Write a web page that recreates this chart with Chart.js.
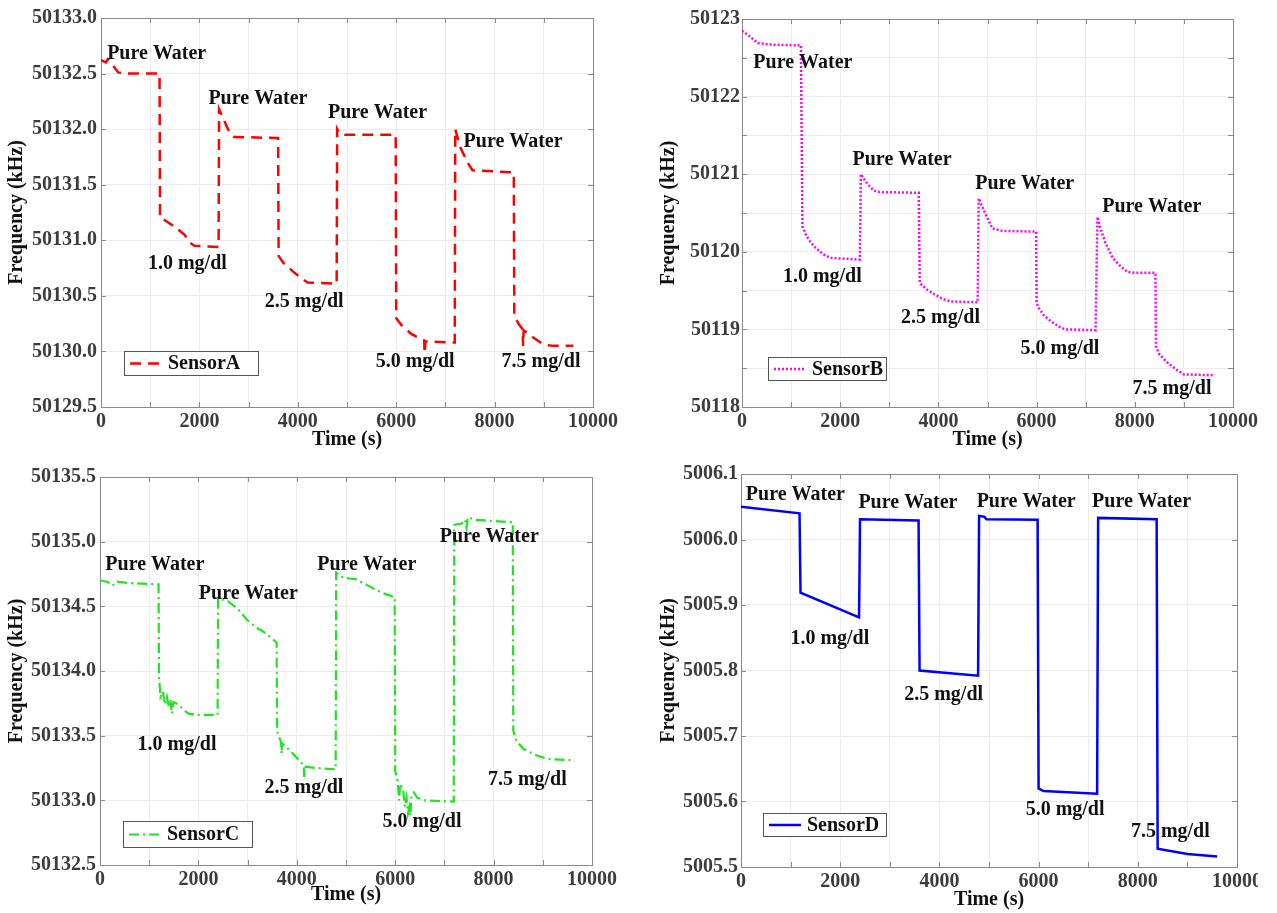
<!DOCTYPE html>
<html><head><meta charset="utf-8">
<script src="https://cdn.jsdelivr.net/npm/chart.js@4.4.1/dist/chart.umd.min.js"></script>
<style>
html,body{margin:0;padding:0;background:#fff;width:1277px;height:913px;overflow:hidden;}
.p{position:absolute;}
canvas{display:block;}
</style></head><body>
<div class="p" style="left:0px;top:0px;"><canvas id="cA" width="640" height="452"></canvas></div>
<div class="p" style="left:640px;top:0px;"><canvas id="cB" width="637" height="452"></canvas></div>
<div class="p" style="left:0px;top:460px;"><canvas id="cC" width="640" height="453"></canvas></div>
<div class="p" style="left:640px;top:460px;"><canvas id="cD" width="618" height="453"></canvas></div>
<script>
// ---------- DATA ----------
const xTickValues = [0, 2000, 4000, 6000, 8000, 10000];

const timeA = [0,100,140,250,350,500,1190,1200,1300,1500,1700,1800,1900,2390,2400,2500,2600,2700,3600,3610,3700,3900,4100,4200,4790,4800,4850,4950,5990,6000,6100,6300,6500,6570,6580,6590,7190,7200,7300,7450,7550,8390,8400,8500,8570,8580,8590,8800,9000,9200,9600];
const freqA = [50132.62,50132.60,50132.63,50132.57,50132.51,50132.50,50132.50,50131.20,50131.18,50131.12,50131.05,50130.98,50130.95,50130.94,50132.18,50132.08,50131.98,50131.93,50131.92,50130.86,50130.80,50130.72,50130.65,50130.62,50130.61,50132.00,50131.96,50131.95,50131.95,50130.30,50130.24,50130.16,50130.11,50130.10,50129.90,50130.09,50130.08,50132.00,50131.84,50131.70,50131.63,50131.61,50130.32,50130.24,50130.20,50130.05,50130.19,50130.12,50130.06,50130.05,50130.05];

const timeB = [0,150,320,600,1200,1230,1300,1400,1500,1650,1800,2400,2420,2550,2680,2800,3600,3620,3750,3900,4100,4250,4800,4820,4950,5100,5300,5990,6000,6050,6150,6300,6500,6600,7200,7240,7300,7400,7550,7700,7850,8000,8420,8430,8500,8650,8850,9000,9600];
const freqB = [50122.85,50122.78,50122.69,50122.67,50122.66,50120.33,50120.22,50120.12,50120.05,50119.97,50119.92,50119.90,50121.00,50120.88,50120.79,50120.77,50120.76,50119.60,50119.52,50119.46,50119.39,50119.36,50119.35,50120.69,50120.50,50120.30,50120.27,50120.26,50119.34,50119.27,50119.18,50119.10,50119.02,50119.00,50118.99,50120.45,50120.30,50120.12,50119.92,50119.82,50119.74,50119.73,50119.73,50118.78,50118.68,50118.58,50118.48,50118.42,50118.41];

const timeC = [0,150,250,350,600,1190,1200,1230,1280,1320,1360,1400,1430,1460,1490,1600,1700,1800,2000,2390,2400,2600,2800,3000,3200,3300,3500,3590,3600,3680,3690,3700,3850,4000,4140,4150,4160,4400,4790,4800,4950,5200,5450,5700,5990,6000,6050,6080,6100,6160,6200,6230,6260,6290,6310,6330,6380,6450,6600,7190,7200,7350,7420,7450,7480,7600,8000,8390,8400,8460,8600,8850,9100,9600];
const freqC = [50134.70,50134.69,50134.66,50134.69,50134.68,50134.67,50133.95,50133.80,50133.84,50133.74,50133.80,50133.72,50133.78,50133.67,50133.76,50133.74,50133.70,50133.67,50133.66,50133.66,50134.56,50134.54,50134.48,50134.39,50134.33,50134.31,50134.25,50134.22,50133.53,50133.45,50133.36,50133.44,50133.39,50133.33,50133.27,50133.18,50133.26,50133.25,50133.24,50134.76,50134.72,50134.71,50134.66,50134.61,50134.57,50133.23,50133.15,50133.00,50133.13,50133.08,50132.95,50133.02,50132.90,50132.95,50132.88,50133.03,50133.06,50133.02,50133.00,50132.99,50135.13,50135.14,50135.17,50135.11,50135.19,50135.17,50135.16,50135.15,50133.54,50133.46,50133.40,50133.35,50133.32,50133.31];

const timeD = [0,1180,1200,2380,2400,3580,3600,4780,4800,4900,4950,5980,6000,6100,7180,7200,8380,8400,9000,9600];
const freqD = [5006.050,5006.040,5005.919,5005.881,5006.031,5006.029,5005.800,5005.792,5006.036,5006.035,5006.031,5006.030,5005.620,5005.616,5005.612,5006.033,5006.031,5005.528,5005.520,5005.516];

const noteText = ['Pure Water','Pure Water','Pure Water','Pure Water','1.0 mg/dl','2.5 mg/dl','5.0 mg/dl','7.5 mg/dl'];
const noteTimeA = [125,2183,4614,7369,954,3328,5585,8141];
const noteFreqA = [50132.68,50132.27,50132.15,50131.89,50130.79,50130.45,50129.91,50129.91];
const noteTimeB = [231,2251,4749,7337,833,3240,5672,7955];
const noteFreqB = [50122.44,50121.18,50120.88,50120.58,50119.68,50119.15,50118.75,50118.24];
const noteTimeC = [108,2008,4415,6905,763,3344,5743,7884];
const noteFreqC = [50134.82,50134.60,50134.82,50135.04,50133.43,50133.10,50132.83,50133.16];
const noteTimeD = [98,2367,4751,7078,996,3290,5739,7861];
const noteFreqD = [5006.068,5006.056,5006.057,5006.057,5005.849,5005.763,5005.587,5005.553];

// ---------- RENDER ----------
const FONT = "'Liberation Serif','Times New Roman',serif";
Chart.defaults.font.family = FONT;
Chart.defaults.font.weight = 'bold';
Chart.defaults.font.size = 20;

const framePlugin = {
  id: 'frame',
  beforeDatasetsDraw(chart) {
    const {ctx, chartArea: a, scales: {x, y}} = chart;
    ctx.save();
    ctx.strokeStyle = '#8a8a8a';
    ctx.lineWidth = 1;
    ctx.beginPath();
    x.ticks.forEach(t => {
      const px = Math.round(x.getPixelForValue(t.value)) + 0.5;
      ctx.moveTo(px, a.bottom); ctx.lineTo(px, a.bottom - 5);
      ctx.moveTo(px, a.top); ctx.lineTo(px, a.top + 5);
    });
    y.ticks.forEach(t => {
      const py = Math.round(y.getPixelForValue(t.value)) + 0.5;
      ctx.moveTo(a.left, py); ctx.lineTo(a.left + 5, py);
      ctx.moveTo(a.right, py); ctx.lineTo(a.right - 5, py);
    });
    ctx.stroke();
    ctx.strokeRect(Math.round(a.left) + 0.5, Math.round(a.top) + 0.5, Math.round(a.right - a.left), Math.round(a.bottom - a.top));
    ctx.restore();
  }
};

const notesPlugin = {
  id: 'notes',
  afterDatasetsDraw(chart, args, opts) {
    const {ctx, scales: {x, y}, chartArea: a} = chart;
    ctx.save();
    ctx.font = 'bold 20px ' + FONT;
    ctx.fillStyle = '#111';
    ctx.textAlign = 'left';
    ctx.textBaseline = 'middle';
    opts.text.forEach((s, i) => {
      ctx.fillText(s, x.getPixelForValue(opts.t[i]), y.getPixelForValue(opts.v[i]));
    });
    // legend box
    const L = opts.legend;
    const ds = chart.data.datasets[0];
    const bx = a.left + L.dx, by = a.bottom - L.gap - L.h;
    ctx.fillStyle = '#fff';
    ctx.fillRect(bx, by, L.w, L.h);
    ctx.strokeStyle = '#555';
    ctx.lineWidth = 1;
    ctx.strokeRect(Math.round(bx) + 0.5, Math.round(by) + 0.5, L.w, L.h);
    ctx.beginPath();
    ctx.strokeStyle = ds.borderColor;
    ctx.lineWidth = ds.borderWidth;
    ctx.setLineDash(ds.borderDash || []);
    ctx.moveTo(bx + 6, by + L.h / 2 + 0.5);
    ctx.lineTo(bx + 38, by + L.h / 2 + 0.5);
    ctx.stroke();
    ctx.setLineDash([]);
    ctx.fillStyle = '#111';
    ctx.fillText(ds.label, bx + 44, by + L.h / 2 + 1);
    ctx.restore();
  }
};

function makeChart(id, times, freqs, label, style, yRange, yStep, yFmt, notesT, notesV, layout, legend) {
  const pts = times.map((t, i) => ({x: t, y: freqs[i]}));
  return new Chart(document.getElementById(id), {
    type: 'line',
    data: { datasets: [Object.assign({ label: label, data: pts, pointRadius: 0, fill: false, tension: 0 }, style)] },
    options: {
      responsive: false, animation: false, devicePixelRatio: 1,
      layout: { padding: layout.pad },
      plugins: {
        legend: { display: false }, tooltip: { enabled: false },
        notes: { text: noteText, t: notesT, v: notesV, legend: legend }
      },
      scales: {
        x: {
          type: 'linear', min: 0, max: 10000,
          ticks: { stepSize: 1000, autoSkip: false, maxRotation: 0, padding: 3, color: '#3c3c3c',
                   callback: v => xTickValues.includes(v) ? String(v) : '' },
          grid: { color: '#ececec', drawTicks: false },
          border: { display: false },
          title: { display: true, text: 'Time (s)', color: '#111', padding: 0, font: { size: 20, weight: 'bold' } },
          afterFit: s => { s.height = layout.xh; s.paddingLeft = 0; s.paddingRight = 0; }
        },
        y: {
          min: yRange[0], max: yRange[1],
          ticks: { stepSize: yStep, autoSkip: false, padding: layout.yp, color: '#3c3c3c', callback: yFmt },
          grid: { color: '#ececec', drawTicks: false },
          border: { display: false },
          title: { display: true, text: 'Frequency (kHz)', color: '#111', padding: 0, font: { size: 20, weight: 'bold' } },
          afterFit: s => { s.width = layout.yw; s.paddingTop = 0; s.paddingBottom = 0; }
        }
      }
    },
    plugins: [framePlugin, notesPlugin]
  });
}

const fmt1 = v => Number(v).toFixed(1);
const fmtInt = v => Math.abs(v - Math.round(v)) < 1e-6 ? String(Math.round(v)) : '';

makeChart('cA', timeA, freqA, 'SensorA',
  { borderColor: '#ff0000', borderWidth: 2.5, borderDash: [11, 7] },
  [50129.5, 50133.0], 0.5, fmt1, noteTimeA, noteFreqA,
  { pad: {top: 18, left: 5, right: 47, bottom: 0}, xh: 45, yw: 96, yp: 4 },
  { dx: 23, gap: 32, w: 134, h: 24 });

makeChart('cB', timeB, freqB, 'SensorB',
  { borderColor: '#ff00ff', borderWidth: 2.5, borderDash: [2, 2] },
  [50118, 50123], 0.5, fmtInt, noteTimeB, noteFreqB,
  { pad: {top: 19, left: 17, right: 44, bottom: 0}, xh: 45, yw: 85, yp: 2 },
  { dx: 26, gap: 27, w: 118, h: 23 });

makeChart('cC', timeC, freqC, 'SensorC',
  { borderColor: '#1ee61e', borderWidth: 2.2, borderDash: [10, 4, 2, 4] },
  [50132.5, 50135.5], 0.5, fmt1, noteTimeC, noteFreqC,
  { pad: {top: 17, left: 5, right: 48, bottom: 6}, xh: 42, yw: 95, yp: 4 },
  { dx: 23, gap: 18, w: 129, h: 26 });

makeChart('cD', timeD, freqD, 'SensorD',
  { borderColor: '#0000ff', borderWidth: 2.5 },
  [5005.5, 5006.1], 0.1, fmt1, noteTimeD, noteFreqD,
  { pad: {top: 14, left: 17, right: 21, bottom: 1}, xh: 45, yw: 84, yp: 3 },
  { dx: 22, gap: 31, w: 123, h: 23 });
</script>
</body></html>
